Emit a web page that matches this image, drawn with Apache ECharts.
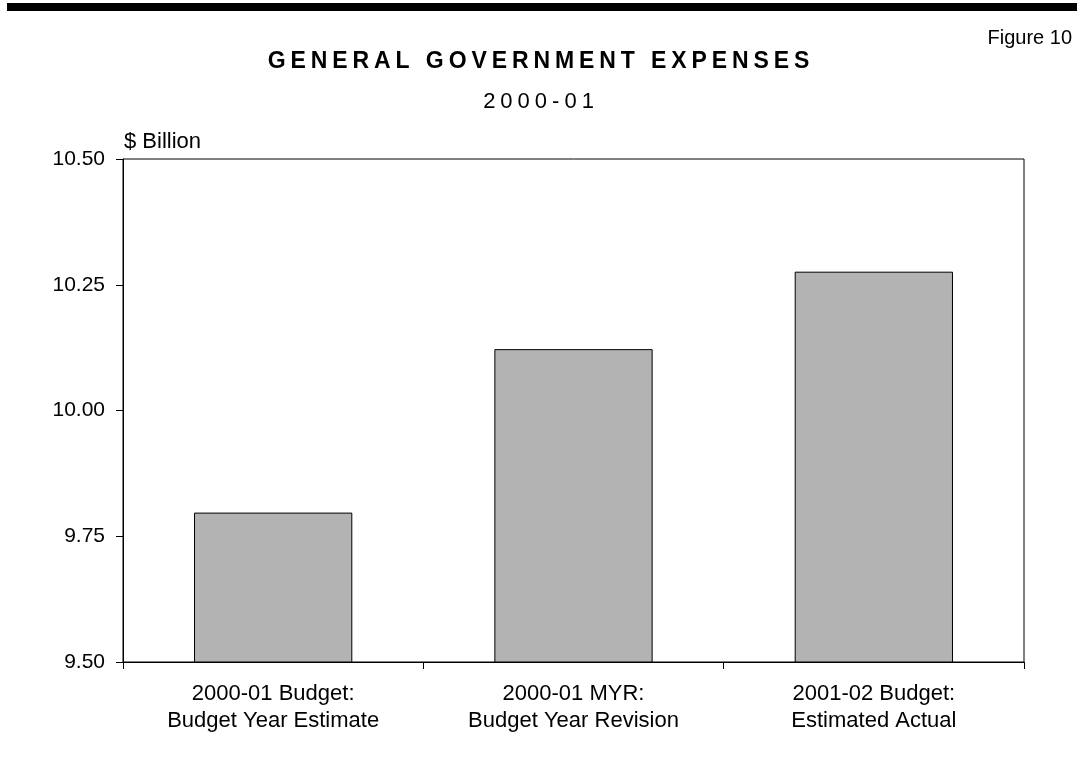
<!DOCTYPE html>
<html><head><meta charset="utf-8">
<script src="https://cdn.jsdelivr.net/npm/echarts@6/dist/echarts.min.js"></script>
<style>html,body{margin:0;padding:0;background:#fff}#c{width:1085px;height:764px}</style>
</head><body><div id="c"></div>
<script>
const categories = ['2000-01 Budget:\nBudget Year Estimate', '2000-01 MYR:\nBudget Year Revision', '2001-02 Budget:\nEstimated Actual'];
const values = [9.797, 10.122, 10.276];
const yTicks = [9.50, 9.75, 10.00, 10.25, 10.50];
const titleText = 'GENERAL GOVERNMENT EXPENSES';
const subtitleText = '2000-01';

// letter-spaced title text (drawn by ECharts' canvas text, spacing applied at draw time)
const spacing = {};
spacing[titleText] = '4.9px';
spacing[subtitleText] = '5px';
(function () {
  const proto = CanvasRenderingContext2D.prototype;
  const orig = proto.fillText;
  proto.fillText = function (t, x, y, w) {
    const want = Object.prototype.hasOwnProperty.call(spacing, t) ? spacing[t] : '0px';
    if ('letterSpacing' in this && this.letterSpacing !== want) {
      this.letterSpacing = want;
      const f = this.font; this.font = '10px serif'; this.font = f;
    }
    if (w === undefined) orig.call(this, t, x, y); else orig.call(this, t, x, y, w);
    if ('letterSpacing' in this && want !== '0px') {
      this.letterSpacing = '0px';
      const f = this.font; this.font = '10px serif'; this.font = f;
    }
  };
})();

const chart = echarts.init(document.getElementById('c'), null, {renderer: 'canvas'});
const FONT = '"Liberation Sans", Arial, Helvetica, sans-serif';
chart.setOption({
  backgroundColor: '#fff',
  animation: false,
  textStyle: {fontFamily: FONT, color: '#000'},
  graphic: [
    {type: 'rect', shape: {x: 7, y: 3, width: 1070, height: 8}, style: {fill: '#000'}},
    {type: 'text', x: 541, y: 62, style: {text: titleText, font: 'bold 23px ' + FONT, fill: '#000', align: 'center', verticalAlign: 'middle', textAlign: 'center', textVerticalAlign: 'middle'}},
    {type: 'text', x: 541, y: 102, style: {text: subtitleText, font: '22px ' + FONT, fill: '#000', align: 'center', verticalAlign: 'middle', textAlign: 'center', textVerticalAlign: 'middle'}},
    {type: 'text', x: 1072, y: 38, style: {text: 'Figure 10', font: '20px ' + FONT, fill: '#000', align: 'right', verticalAlign: 'middle', textAlign: 'right', textVerticalAlign: 'middle'}},
    {type: 'text', x: 124, y: 142, style: {text: '$ Billion', font: '22px ' + FONT, fill: '#000', align: 'left', verticalAlign: 'middle', textAlign: 'left', textVerticalAlign: 'middle'}}
  ],
  grid: {left: 123, right: 61, top: 159, bottom: 102, show: true, borderColor: '#000', borderWidth: 1, backgroundColor: 'transparent'},
  xAxis: {
    type: 'category', data: categories,
    axisLine: {lineStyle: {color: '#000', width: 1}},
    axisTick: {show: true, length: 7, lineStyle: {color: '#000'}},
    axisLabel: {color: '#000', fontSize: 22, fontFamily: FONT, lineHeight: 27, margin: 18}
  },
  yAxis: {
    type: 'value', min: 9.5, max: 10.5, interval: 0.25,
    axisLine: {show: true, lineStyle: {color: '#000', width: 1}},
    axisTick: {show: true, length: 7, lineStyle: {color: '#000'}},
    splitLine: {show: false},
    axisLabel: {color: '#000', fontSize: 21, fontFamily: FONT, margin: 18, formatter: v => v.toFixed(2)}
  },
  series: [{
    type: 'bar', data: values, barWidth: '52.7%',
    itemStyle: {color: '#b3b3b3', borderColor: '#000', borderWidth: 1}
  }]
});
</script></body></html>
